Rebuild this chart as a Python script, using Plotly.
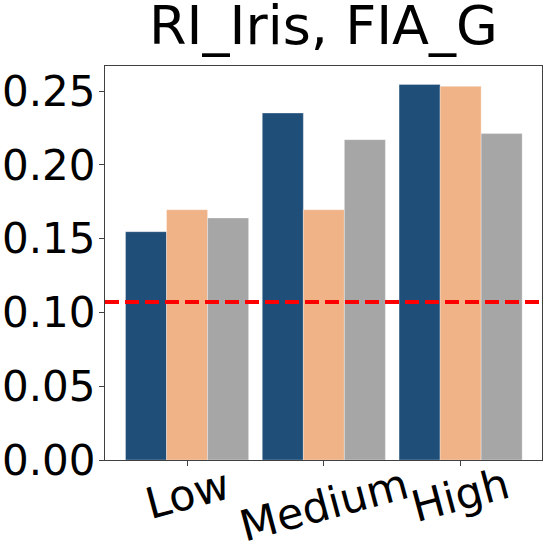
import plotly.graph_objects as go

# values
categories = ["Low", "Medium", "High"]
series_a = [0.1547, 0.2351, 0.2545]
series_b = [0.1696, 0.1696, 0.2532]
series_c = [0.1640, 0.2171, 0.2212]
threshold = 0.107
yticks = [0.0, 0.05, 0.10, 0.15, 0.20, 0.25]

colors = ["#1f4e79", "#f0b387", "#a6a6a6"]
font = "DejaVu Sans"

fig = go.Figure()
for vals, col in zip([series_a, series_b, series_c], colors):
    fig.add_trace(go.Bar(x=categories, y=vals, marker_color=col,
                         marker_line=dict(width=0.5, color="rgba(255,255,255,0.6)"),
                         showlegend=False))

# red dashed reference line
fig.add_shape(type="line", xref="paper", x0=0, x1=1, yref="y", y0=threshold, y1=threshold,
              line=dict(color="red", width=4, dash="14px,6px"))

# rotated category labels, centred under the ticks like matplotlib
for c in categories:
    fig.add_annotation(x=c, xref="x", y=0.01, yref="paper", text=c, showarrow=False,
                       textangle=-15, xanchor="center", yanchor="top",
                       font=dict(family=font, size=43, color="black"))

fig.update_layout(
    width=548, height=548,
    margin=dict(l=105, r=6, t=66, b=88),
    paper_bgcolor="white", plot_bgcolor="white",
    barmode="group", bargap=0.1, bargroupgap=0,
    font=dict(family=font, color="black"),
    title=dict(text="RI_Iris, FIA_G", x=0.5, xref="paper", xanchor="center",
               y=0.955, yref="container", yanchor="middle",
               font=dict(family=font, size=54, color="black")),
)
fig.update_xaxes(range=[-0.6, 2.595], showline=True, mirror=True, linecolor="#404040", linewidth=1.3,
                 ticks="outside", ticklen=5, tickcolor="#404040", showticklabels=False,
                 showgrid=False, zeroline=False, automargin=False)
fig.update_yaxes(range=[0, 0.267], showline=True, mirror=True, linecolor="#404040", linewidth=1.3,
                 ticks="outside", ticklen=5, tickcolor="#404040", tickvals=yticks, tickformat=".2f",
                 tickfont=dict(family=font, size=42, color="black"), ticklabelstandoff=-5,
                 showgrid=False, zeroline=False, automargin=False)

# the page's default body margin would shift the figure by 8px
fig.write_html("out.html", config={"displayModeBar": False},
               post_script="document.body.style.margin='0';document.body.style.overflow='hidden';")
